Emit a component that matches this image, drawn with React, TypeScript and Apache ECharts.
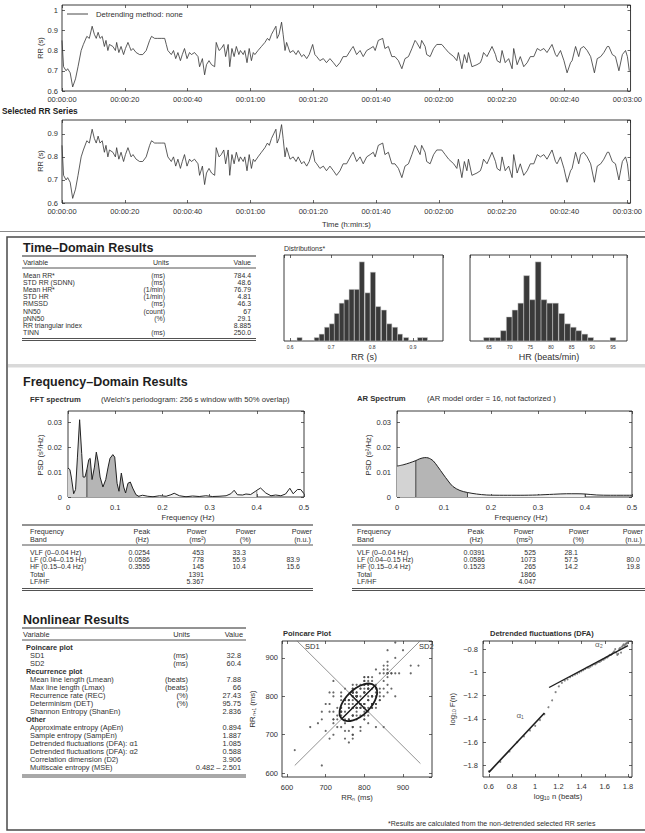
import React, { useEffect, useRef } from 'react';
import * as echarts from 'echarts';

// ---------------- data ----------------
// RR interval series: [time (s), RR (s)]
const rrSamples: [number, number][] = [
  [0.0,0.85],[0.5,0.72],[1.3,0.70],[1.8,0.71],[2.6,0.69],[3.4,0.62],[4.3,0.66],[5.1,0.72],[6.1,0.80],[6.8,0.83],
  [7.9,0.87],[8.7,0.86],[9.6,0.92],[10.3,0.88],[10.9,0.86],[11.5,0.89],[12.1,0.86],[12.8,0.87],[13.5,0.82],[14.0,0.85],
  [14.6,0.80],[15.1,0.83],[16.2,0.82],[17.0,0.80],[17.4,0.84],[18.1,0.79],[18.8,0.82],[19.6,0.78],[20.2,0.81],[21.0,0.84],
  [21.5,0.82],[22.0,0.80],[22.6,0.81],[23.6,0.79],[24.7,0.78],[25.7,0.78],[26.8,0.80],[27.9,0.85],[28.5,0.87],[29.5,0.86],
  [30.5,0.86],[31.6,0.86],[32.7,0.86],[33.2,0.83],[33.7,0.80],[34.8,0.78],[35.5,0.80],[36.2,0.76],[36.9,0.79],[37.7,0.75],
  [38.3,0.78],[39.0,0.81],[39.8,0.76],[40.6,0.79],[41.2,0.78],[42.2,0.79],[43.3,0.77],[43.8,0.72],[44.7,0.76],[45.4,0.68],
  [46.0,0.73],[46.8,0.75],[47.6,0.73],[48.6,0.72],[49.1,0.84],[50.0,0.80],[50.7,0.81],[51.5,0.83],[52.1,0.77],[52.9,0.83],
  [53.4,0.72],[54.1,0.81],[54.8,0.77],[55.5,0.82],[56.3,0.78],[56.8,0.80],[57.7,0.78],[58.2,0.80],[58.9,0.74],[59.6,0.81],
  [60.3,0.75],[60.9,0.79],[61.4,0.78],[62.4,0.80],[63.5,0.82],[64.6,0.84],[65.4,0.86],[66.0,0.85],[66.7,0.88],[67.4,0.90],
  [68.1,0.92],[68.5,0.86],[69.1,0.88],[69.9,0.94],[70.4,0.88],[71.0,0.80],[71.5,0.84],[72.6,0.79],[73.6,0.80],[74.5,0.78],
  [75.2,0.80],[76.3,0.77],[77.0,0.78],[77.9,0.76],[78.7,0.78],[79.8,0.83],[80.5,0.78],[81.1,0.77],[82.1,0.75],[83.2,0.76],
  [84.2,0.74],[85.3,0.76],[86.4,0.74],[87.4,0.72],[88.5,0.74],[89.5,0.77],[90.6,0.77],[92.2,0.81],[92.7,0.82],[93.8,0.78],
  [94.9,0.80],[95.9,0.77],[97.0,0.80],[98.1,0.81],[99.1,0.82],[99.7,0.80],[100.7,0.85],[102.1,0.86],[102.8,0.81],[103.9,0.82],
  [105.0,0.77],[106.0,0.77],[107.1,0.75],[108.2,0.71],[109.2,0.76],[110.3,0.77],[111.4,0.81],[112.4,0.85],[112.9,0.84],[114.0,0.81],
  [114.5,0.85],[115.6,0.82],[116.1,0.78],[117.2,0.77],[118.3,0.81],[119.3,0.83],[120.9,0.83],[122.0,0.81],[123.1,0.79],[124.7,0.77],
  [125.7,0.75],[126.2,0.79],[127.3,0.71],[128.1,0.78],[128.9,0.74],[129.4,0.79],[130.5,0.72],[132.1,0.73],[133.2,0.74],[133.7,0.76],
  [134.2,0.79],[135.3,0.77],[136.9,0.82],[138.0,0.78],[138.5,0.75],[139.5,0.74],[140.1,0.80],[141.1,0.74],[142.2,0.76],[143.3,0.71],
  [143.8,0.81],[144.9,0.73],[145.9,0.77],[147.0,0.72],[148.1,0.74],[149.1,0.77],[150.2,0.77],[151.3,0.81],[152.3,0.80],[153.4,0.81],
  [154.4,0.79],[156.0,0.83],[157.1,0.78],[157.6,0.77],[158.7,0.80],[159.8,0.75],[160.8,0.69],[161.9,0.74],[162.4,0.75],[163.5,0.82],
  [164.5,0.77],[165.1,0.81],[166.1,0.82],[167.2,0.80],[168.3,0.77],[169.5,0.69],[170.4,0.76],[171.5,0.77],[172.5,0.79],[173.6,0.82],
  [174.1,0.82],[175.2,0.78],[176.2,0.77],[177.3,0.70],[178.4,0.78],[179.4,0.80],[180.0,0.77],[180.6,0.70],
];

const rrHistCenters = [0.623,0.665,0.677,0.690,0.702,0.714,0.726,0.738,0.750,0.763,0.775,0.789,0.802,0.815,0.829,0.842,0.856,0.868,0.883,0.917,0.929];
const rrHistCounts  = [1,1,2,4,5,8,11,12,15,15,23,14,20,10,9,5,4,2,1,1,1];
const rrHistWidth = 0.0125;

const hrHistCenters = [64.4,65.8,67.2,68.5,69.9,71.3,72.7,74.1,75.5,76.9,78.3,79.7,81.1,82.6,84.0,85.4,86.7,88.2,89.6,95.0];
const hrHistCounts  = [1,1,1,3,7,9,11,19,12,23,12,11,11,8,5,4,3,2,1,1];
const hrHistWidth = 1.4;

// PSD spectra: [frequency (Hz), PSD (s^2/Hz)]
const fftSpectrum: [number, number][] = [
  [0,0.0116],[0.004,0.011],[0.007,0.008],[0.012,0.0013],[0.016,0.003],[0.020,0.016],[0.0246,0.031],[0.029,0.0175],
  [0.032,0.008],[0.036,0.008],[0.040,0.011],[0.044,0.015],[0.047,0.0155],[0.051,0.007],[0.056,0.012],[0.060,0.018],
  [0.064,0.014],[0.068,0.008],[0.074,0.004],[0.080,0.007],[0.085,0.012],[0.089,0.0155],[0.095,0.017],[0.099,0.016],
  [0.104,0.0055],[0.108,0.0023],[0.113,0.0096],[0.118,0.004],[0.122,0.0016],[0.127,0.0055],[0.132,0.006],[0.137,0.0036],
  [0.144,0.0009],[0.150,0.0003],[0.158,0.0007],[0.169,0.0003],[0.180,0.0001],[0.194,0.0005],[0.208,0.0003],[0.218,0.0009],
  [0.225,0.0015],[0.236,0.0005],[0.250,0.0001],[0.264,0.0004],[0.278,0.0002],[0.292,0.0005],[0.306,0.0002],[0.320,0.0003],
  [0.335,0.0005],[0.345,0.0013],[0.352,0.0027],[0.359,0.0009],[0.370,0.0008],[0.377,0.0012],[0.387,0.001],[0.398,0.0024],
  [0.400,0.0027],[0.408,0.0036],[0.419,0.0016],[0.430,0.0005],[0.440,0.0008],[0.451,0.0005],[0.461,0.0012],[0.470,0.0035],
  [0.477,0.0013],[0.486,0.003],[0.493,0.003],[0.500,0.0013],
];
const arSpectrum: [number, number][] = [
  [0,0.0124],[0.013,0.0129],[0.027,0.0137],[0.040,0.0146],[0.048,0.0153],[0.059,0.0158],[0.066,0.0157],[0.077,0.0145],
  [0.087,0.0121],[0.098,0.0092],[0.109,0.0064],[0.119,0.0042],[0.134,0.0026],[0.150,0.0018],[0.169,0.0012],[0.191,0.0008],
  [0.226,0.0007],[0.262,0.0007],[0.297,0.0008],[0.333,0.0011],[0.361,0.0013],[0.383,0.0013],[0.400,0.0012],[0.425,0.0008],
  [0.454,0.0007],[0.500,0.0007],
];
const bandEdges = [0, 0.04, 0.15, 0.4];

// DFA: [log10 n, log10 F(n)]
const dfaPoints: [number, number][] = [
  [0.602,-1.85],[0.699,-1.77],[0.778,-1.68],[0.845,-1.60],[0.903,-1.55],[0.954,-1.50],[1.000,-1.46],[1.041,-1.41],
  [1.079,-1.36],[1.114,-1.30],[1.146,-1.24],[1.176,-1.17],[1.204,-1.12],[1.230,-1.09],[1.255,-1.07],[1.279,-1.06],
  [1.301,-1.04],[1.322,-1.03],[1.342,-1.02],[1.362,-1.01],[1.380,-1.00],[1.398,-0.99],[1.415,-0.98],[1.431,-0.97],
  [1.447,-0.96],[1.462,-0.96],[1.477,-0.95],[1.491,-0.94],[1.505,-0.93],[1.519,-0.93],[1.531,-0.92],[1.544,-0.91],
  [1.556,-0.91],[1.568,-0.90],[1.580,-0.89],[1.591,-0.89],[1.602,-0.88],[1.613,-0.87],[1.623,-0.87],[1.633,-0.86],
  [1.643,-0.85],[1.653,-0.85],[1.663,-0.84],[1.672,-0.83],[1.681,-0.82],[1.690,-0.80],[1.699,-0.83],[1.708,-0.85],
  [1.716,-0.84],[1.724,-0.80],[1.732,-0.79],[1.740,-0.83],[1.748,-0.78],[1.756,-0.77],[1.763,-0.76],[1.771,-0.77],
  [1.778,-0.76],[1.785,-0.75],[1.792,-0.75],[1.799,-0.74],
];
const dfaFit1: [number, number][] = [[0.6,-1.86],[1.08,-1.35]];
const dfaFit2: [number, number][] = [[1.12,-1.13],[1.80,-0.77]];
const dfaLabels: [number, number, string][] = [[0.87,-1.37,'α₁'],[1.55,-0.76,'α₂']];

// Poincare ellipse: [mean RR (ms), SD1, SD2]
const poincareEllipse = [784.4, 32.8, 60.4];
const sd2Line: [number, number][] = [[620,620],[945,945]];
const sd1Line: [number, number][] = [[945,625],[625,945]];

// tables
const timeRows = [
  ['Mean RR*','(ms)','784.4'],['STD RR (SDNN)','(ms)','48.6'],['Mean HR*','(1/min)','76.79'],
  ['STD HR','(1/min)','4.81'],['RMSSD','(ms)','46.3'],['NN50','(count)','67'],['pNN50','(%)','29.1'],
  ['RR triangular index','','8.885'],['TINN','(ms)','250.0'],
];
const fftRows = [
  ['VLF (0–0.04 Hz)','0.0254','453','33.3',''],['LF (0.04–0.15 Hz)','0.0586','778','55.9','83.9'],
  ['HF (0.15–0.4 Hz)','0.3555','145','10.4','15.6'],['Total','','1391','',''],['LF/HF','','5.367','',''],
];
const arRows = [
  ['VLF (0–0.04 Hz)','0.0391','525','28.1',''],['LF (0.04–0.15 Hz)','0.0586','1073','57.5','80.0'],
  ['HF (0.15–0.4 Hz)','0.1523','265','14.2','19.8'],['Total','','1866','',''],['LF/HF','','4.047','',''],
];
const nonlinearRows = [
  ['#','Poincare plot'],['SD1','(ms)','32.8'],['SD2','(ms)','60.4'],
  ['#','Recurrence plot'],['Mean line length (Lmean)','(beats)','7.88'],['Max line length (Lmax)','(beats)','66'],
  ['Recurrence rate (REC)','(%)','27.43'],['Determinism (DET)','(%)','95.75'],['Shannon Entropy (ShanEn)','','2.836'],
  ['#','Other'],['Approximate entropy (ApEn)','','0.894'],['Sample entropy (SampEn)','','1.887'],
  ['Detrended fluctuations (DFA): α1','','1.085'],['Detrended fluctuations (DFA): α2','','0.588'],
  ['Correlation dimension (D2)','','3.906'],['Multiscale entropy (MSE)','','0.482 – 2.501'],
];

// ---------------- styling helpers ----------------
const FONT = '"Liberation Sans", Arial, Helvetica, sans-serif';
const INK = '#262626';
const TXT = '#303030';

function hms(v: number) {
  const s = Math.round(v);
  const m = Math.floor(s / 60);
  const ss = s % 60;
  return `00:${String(m).padStart(2, '0')}:${String(ss).padStart(2, '0')}`;
}

function txt(text: string, x: number, y: number, o: any = {}) {
  return {
    type: 'text', x, y, rotation: o.rot || 0, silent: true, z: 100,
    style: {
      text, fill: o.color || TXT, fontFamily: FONT, fontSize: o.size || 7.4,
      fontWeight: o.bold ? 'bold' : 'normal', align: o.align || 'left', verticalAlign: 'middle',
    },
  };
}
function hline(x1: number, x2: number, y: number, w = 0.8, color = INK) {
  return { type: 'line', silent: true, z: 90, shape: { x1, y1: y, x2, y2: y }, style: { stroke: color, lineWidth: w } };
}

type AxSpec = {
  min: number; max: number; step: number; fromMin?: boolean; fmt?: (v: number) => string;
  size?: number; margin?: number; hideMin?: boolean; hideMax?: boolean; noTicks?: boolean; noLabels?: boolean;
};

function mkAxis(gi: number, pos: string, s: AxSpec, labels: boolean) {
  const o: any = {
    type: 'value', gridIndex: gi, position: pos, min: s.min, max: s.max,
    axisLine: { show: false, onZero: false },
    axisTick: { show: !s.noTicks, inside: true, length: 3, lineStyle: { color: INK, width: 0.7 } },
    splitLine: { show: false },
    axisLabel: { show: false },
  };
  if (labels && !s.noLabels) {
    o.axisLabel = {
      show: true, fontSize: s.size || 7.5, color: TXT, fontFamily: FONT, margin: s.margin ?? 4,
    };
    if (s.fmt) o.axisLabel.formatter = s.fmt;
    if (s.hideMin) o.axisLabel.showMinLabel = false;
    if (s.hideMax) o.axisLabel.showMaxLabel = false;
  }
  if (s.fromMin) o.interval = s.step;
  else { o.minInterval = s.step; o.maxInterval = s.step; }
  return o;
}

function buildOption() {
  const grid: any[] = [], xAxis: any[] = [], yAxis: any[] = [], series: any[] = [], graphic: any[] = [];

  function panel(r: number[], xs: AxSpec, ys: AxSpec) {
    const gi = grid.length;
    grid.push({ left: r[0], top: r[1], width: r[2], height: r[3], show: true, borderColor: INK, borderWidth: 0.9, backgroundColor: 'transparent' });
    const xi = xAxis.length;
    xAxis.push(mkAxis(gi, 'bottom', xs, true), mkAxis(gi, 'top', xs, false));
    const yi = yAxis.length;
    yAxis.push(mkAxis(gi, 'left', ys, true), mkAxis(gi, 'right', ys, false));
    return { xi, yi };
  }
  const lineS = (p: any, data: any, color = '#2e2e2e', width = 0.8, extra: any = {}) => ({
    type: 'line', xAxisIndex: p.xi, yAxisIndex: p.yi, data, symbol: 'none', silent: true,
    lineStyle: { color, width }, ...extra,
  });
  const minus = (v: number) => String(+(+v).toFixed(2)).replace('-', '\u2212');

  // ---------- RR series panels ----------
  const rrX: AxSpec = { min: 0, max: 181, step: 20, fromMin: true, hideMax: true, margin: 4, size: 7.5, fmt: (v: number) => (Math.abs(v % 20) < 1e-6 ? hms(v) : '') };
  const p1 = panel([62, 5, 570, 86], rrX, { min: 0.6, max: 1.025, step: 0.1, fromMin: true, hideMax: true });
  series.push(lineS(p1, rrSamples, '#333', 0.8));
  const p2 = panel([62, 120, 570, 83], rrX, { min: 0.6, max: 0.96, step: 0.1, fromMin: true, hideMax: true });
  series.push(lineS(p2, rrSamples, '#333', 0.8));
  graphic.push(
    { type: 'line', silent: true, z: 90, shape: { x1: 67, y1: 14, x2: 88, y2: 14 }, style: { stroke: '#333', lineWidth: 0.9 } },
    txt('Detrending method: none', 96, 14, { size: 7.7 }),
    txt('RR (s)', 40, 48, { rot: Math.PI / 2, align: 'center', size: 7.5 }),
    txt('Selected RR Series', 2, 111, { bold: true, size: 8.3, color: '#222' }),
    txt('RR (s)', 40, 161, { rot: Math.PI / 2, align: 'center', size: 7.5 }),
    txt('Time (h:min:s)', 322, 224, { size: 7.7 }),
  );

  // ---------- frame ----------
  graphic.push(
    hline(0, 645, 231.5, 1, '#8a8a8a'),
    { type: 'rect', silent: true, z: 80, shape: { x: 7, y: 237, width: 660, height: 593 }, style: { fill: 'none', stroke: '#4a4a4a', lineWidth: 1.5 } },
    { type: 'rect', silent: true, z: 80, shape: { x: 8, y: 364, width: 640, height: 3.5 }, style: { fill: '#d9d9d9', stroke: 'none' } },
  );

  // ---------- Time-domain table ----------
  graphic.push(txt('Time–Domain Results', 23, 248, { size: 12.5, bold: true, color: '#1e1e1e' }));
  graphic.push(hline(22, 256, 256, 1));
  graphic.push(txt('Variable', 23, 262, { size: 7 }), txt('Units', 161, 262, { align: 'center', size: 7 }), txt('Value', 251, 262, { align: 'right', size: 7 }));
  graphic.push(hline(22, 256, 268, 0.8));
  timeRows.forEach((r, i) => {
    const y = 275 + i * 7.2;
    graphic.push(txt(r[0], 23, y, { size: 6.9 }), txt(r[1], 165, y, { align: 'right', size: 6.9 }), txt(r[2], 251, y, { align: 'right', size: 6.9 }));
  });
  graphic.push(hline(22, 256, 338.5, 0.8), hline(22, 256, 340.5, 0.8));

  // ---------- Distributions ----------
  graphic.push(txt('Distributions*', 284, 248, { size: 7 }));
  const histY: AxSpec = { min: 0, max: 25, step: 5, fromMin: true, noTicks: true, noLabels: true };
  const hist = (p: any, centers: number[], counts: number[], w: number) => ({
    type: 'custom', xAxisIndex: p.xi, yAxisIndex: p.yi, silent: true,
    data: centers.map((c, i) => [c, counts[i]]), encode: { x: 0, y: 1 },
    renderItem: (_params: any, api: any) => {
      const x = api.value(0), y = api.value(1);
      const a = api.coord([x - w / 2, y]);
      const b = api.coord([x + w / 2, 0]);
      return { type: 'rect', shape: { x: a[0], y: a[1], width: b[0] - a[0], height: b[1] - a[1] }, style: { fill: '#3a3a3a', stroke: '#cdcdcd', lineWidth: 0.5 } };
    },
  });
  const ph1 = panel([284, 255, 159, 86], { min: 0.585, max: 0.973, step: 0.1, hideMin: true, hideMax: true, size: 5, margin: 3 }, histY);
  series.push(hist(ph1, rrHistCenters, rrHistCounts, rrHistWidth));
  const ph2 = panel([470, 255, 157, 86], { min: 60.4, max: 98.4, step: 5, hideMin: true, hideMax: true, size: 5, margin: 3 }, histY);
  series.push(hist(ph2, hrHistCenters, hrHistCounts, hrHistWidth));
  graphic.push(txt('RR (s)', 364, 357, { align: 'center', size: 9 }), txt('HR (beats/min)', 549, 357, { align: 'center', size: 9 }));

  // ---------- Frequency domain ----------
  graphic.push(txt('Frequency–Domain Results', 23, 382, { size: 12.5, bold: true, color: '#1e1e1e' }));
  graphic.push(
    txt('FFT spectrum', 30, 399, { bold: true, size: 7.7 }),
    txt("(Welch's periodogram: 256 s window with 50% overlap)", 101, 399, { size: 7.7 }),
    txt('AR Spectrum', 357, 398, { bold: true, size: 7.7 }),
    txt('(AR model order = 16, not factorized )', 427, 398, { size: 7.7 }),
  );
  const fX: AxSpec = { min: 0, max: 0.5, step: 0.1, fromMin: true, margin: 6 };
  const psdY: AxSpec = { min: 0, max: 0.0345, step: 0.01, fromMin: true, hideMax: true, margin: 6 };
  const spectrum = (p: any, spec: [number, number][], smooth: number) => {
    const bandColors = ['#d3d3d3', '#b5b5b5', '#f1f1f1'];
    for (let b = 0; b < 3; b++) {
      const lo = bandEdges[b], hi = bandEdges[b + 1];
      series.push(lineS(p, spec.filter(q => q[0] >= lo && q[0] <= hi), 'transparent', 0, { smooth, areaStyle: { color: bandColors[b], opacity: 1 } }));
    }
    for (let b = 1; b < 4; b++) {
      const pt = spec.find(q => q[0] === bandEdges[b]);
      if (pt) series.push(lineS(p, [[pt[0], 0], pt], '#333', b === 3 ? 0.6 : 0.9));
    }
    series.push(lineS(p, spec, '#222', 1, { smooth }));
  };
  const pf = panel([68, 411, 236, 86], fX, psdY);
  spectrum(pf, fftSpectrum, 0);
  const pa = panel([397, 411, 235, 86], fX, psdY);
  spectrum(pa, arSpectrum, 0.3);
  graphic.push(
    txt('PSD (s²/Hz)', 40, 455, { rot: Math.PI / 2, align: 'center', size: 7.7 }),
    txt('PSD (s²/Hz)', 368, 455, { rot: Math.PI / 2, align: 'center', size: 7.7 }),
    txt('Frequency (Hz)', 188, 517, { align: 'center', size: 7.7 }),
    txt('Frequency (Hz)', 521, 517, { align: 'center', size: 7.7 }),
  );

  const freqTable = (rows: string[][], x0: number, x1: number, lx: number, hdrR: number[], valR: number[]) => {
    graphic.push(hline(x0, x1, 525, 1));
    const heads = [['Peak', '(Hz)'], ['Power', '(ms²)'], ['Power', '(%)'], ['Power', '(n.u.)']];
    graphic.push(txt('Frequency', lx, 531, { size: 7.2 }), txt('Band', lx, 539, { size: 7.2 }));
    heads.forEach((h, i) => {
      graphic.push(txt(h[0], hdrR[i], 531, { align: 'right', size: 7.2 }), txt(h[1], hdrR[i] - (i === 2 ? 5 : 1), 539, { align: 'right', size: 7.2 }));
    });
    graphic.push(hline(x0, x1, 545, 0.8));
    rows.forEach((r, i) => {
      const y = 552 + i * 7.4;
      graphic.push(txt(r[0], lx, y, { size: 7 }));
      for (let c = 1; c < 5; c++) if (r[c]) graphic.push(txt(r[c], valR[c - 1], y, { align: 'right', size: 7 }));
    });
    graphic.push(hline(x0, x1, 588.5, 0.8), hline(x0, x1, 590.5, 0.8));
  };
  freqTable(fftRows, 22, 313, 30, [150, 207, 256, 312], [150, 204, 246, 300]);
  freqTable(arRows, 352, 645, 357, [484, 534, 589, 643], [485, 536, 578, 640]);

  // ---------- Nonlinear ----------
  graphic.push(txt('Nonlinear Results', 23, 620, { size: 12.5, bold: true, color: '#1e1e1e' }));
  graphic.push(hline(22, 246, 628, 1));
  graphic.push(txt('Variable', 23, 634), txt('Units', 190, 634, { align: 'right' }), txt('Value', 243, 634, { align: 'right' }));
  graphic.push(hline(22, 246, 640, 0.8));
  nonlinearRows.forEach((r, i) => {
    const y = 647 + i * 8.0;
    if (r[0] === '#') graphic.push(txt(r[1], 26, y, { bold: true }));
    else graphic.push(txt(r[0], 30, y), txt(r[1], 188, y, { align: 'right' }), txt(r[2], 241, y, { align: 'right' }));
  });
  graphic.push(hline(22, 246, 775, 0.8), hline(22, 246, 777, 0.8));

  // Poincare
  graphic.push(txt('Poincare Plot', 283, 633, { bold: true, size: 7.5 }));
  const pp = panel([282, 641, 150, 136], { min: 587, max: 975, step: 100, hideMin: true, hideMax: true, margin: 6 }, { min: 590, max: 944, step: 100, hideMin: true, hideMax: true, margin: 4 });
  const poincarePts = rrSamples.slice(0, -1).map((s, i) => [Math.round(s[1] * 1000), Math.round(rrSamples[i + 1][1] * 1000)]);
  series.push(lineS(pp, sd2Line.map((p, i) => (i === 1 ? { value: p, symbol: 'arrow', symbolSize: 5, symbolRotate: -45 } : p)), '#777', 0.8, { symbol: 'none', showSymbol: true, itemStyle: { color: '#555' } }));
  series.push(lineS(pp, sd1Line.map((p, i) => (i === 1 ? { value: p, symbol: 'arrow', symbolSize: 5, symbolRotate: 45 } : p)), '#777', 0.8, { symbol: 'none', showSymbol: true, itemStyle: { color: '#555' } }));
  series.push({ type: 'scatter', xAxisIndex: pp.xi, yAxisIndex: pp.yi, data: poincarePts, symbol: 'circle', symbolSize: 2.2, itemStyle: { color: '#444' }, silent: true });
  series.push({
    type: 'custom', xAxisIndex: pp.xi, yAxisIndex: pp.yi, silent: true, z: 5,
    data: [[poincareEllipse[0], poincareEllipse[0], poincareEllipse[1], poincareEllipse[2]]], encode: { x: 0, y: 1 },
    renderItem: (_params: any, api: any) => {
      const c = api.coord([api.value(0), api.value(1)]);
      const s = api.size([1, 1]) as number[];
      const a = api.value(3) * s[0], b = api.value(2) * s[0];
      return {
        type: 'group', x: c[0], y: c[1], rotation: Math.PI / 4, children: [
          { type: 'ellipse', shape: { cx: 0, cy: 0, rx: a, ry: b }, style: { fill: 'none', stroke: '#1c1c1c', lineWidth: 1.8 } },
          { type: 'line', shape: { x1: -a, y1: 0, x2: a, y2: 0 }, style: { stroke: '#1c1c1c', lineWidth: 1.4 } },
          { type: 'line', shape: { x1: 0, y1: -b, x2: 0, y2: b }, style: { stroke: '#1c1c1c', lineWidth: 1.4 } },
        ],
      };
    },
  });
  graphic.push(
    txt('SD1', 305, 646, { size: 7.5 }), txt('SD2', 419, 646, { size: 7.5 }),
    txt('RRₙ (ms)', 357, 797, { align: 'center', size: 7.7 }),
    txt('RRₙ₊₁ (ms)', 252, 709, { rot: Math.PI / 2, align: 'center', size: 7.7 }),
  );

  // DFA
  graphic.push(txt('Detrended fluctuations (DFA)', 490, 633, { bold: true, size: 7.5 }));
  const pd = panel([483, 641, 149, 136], { min: 0.55, max: 1.835, step: 0.2, hideMin: true, hideMax: true, margin: 5, fmt: minus }, { min: -1.9, max: -0.73, step: 0.2, hideMin: true, hideMax: true, margin: 5, fmt: minus });
  series.push({ type: 'scatter', xAxisIndex: pd.xi, yAxisIndex: pd.yi, data: dfaPoints, symbol: 'circle', symbolSize: 2, itemStyle: { color: '#666' }, silent: true });
  series.push(lineS(pd, dfaFit1, '#1e1e1e', 1.6));
  series.push(lineS(pd, dfaFit2, '#1e1e1e', 1.4));
  series.push({
    type: 'scatter', xAxisIndex: pd.xi, yAxisIndex: pd.yi, silent: true, symbolSize: 0,
    data: dfaLabels.map(l => ({ value: [l[0], l[1]], label: { show: true, formatter: l[2], position: 'inside', fontSize: 8, color: TXT, fontFamily: FONT } })),
  });
  graphic.push(
    txt('log₁₀ F(n)', 452, 709, { rot: Math.PI / 2, align: 'center', size: 7.7 }),
    txt('log₁₀ n (beats)', 558, 796, { align: 'center', size: 7.7 }),
  );

  graphic.push(txt('*Results are calculated from the non-detrended selected RR series', 388, 823, { size: 7 }));

  return {
    animation: false,
    backgroundColor: '#ffffff',
    textStyle: { fontFamily: FONT },
    grid, xAxis, yAxis, series, graphic,
  };
}

export default function App() {
  const ref = useRef<HTMLDivElement>(null);
  useEffect(() => {
    if (!ref.current) return;
    const chart = echarts.init(ref.current, undefined, { renderer: 'svg' });
    chart.setOption(buildOption() as any);
    return () => chart.dispose();
  }, []);
  return <div ref={ref} style={{ position: 'absolute', left: 0, top: 0, width: 645, height: 833, background: '#fff' }} />;
}
